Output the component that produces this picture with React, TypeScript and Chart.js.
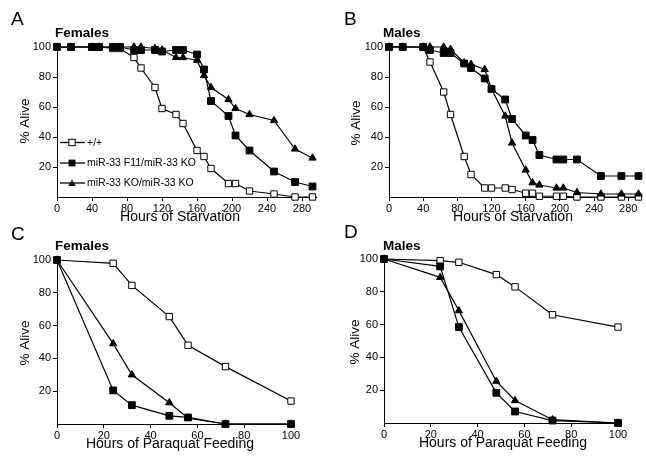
import React, { useEffect, useRef } from 'react';
import { Chart, registerables } from 'chart.js';

Chart.register(...registerables);

const FONT = "'Liberation Sans', Arial, Helvetica, sans-serif";
Chart.defaults.font.family = FONT;
Chart.defaults.color = '#000';

// ---------- data ----------
const starvationHours = [0, 16, 40, 48, 64, 72, 88, 96, 112, 120, 136, 144, 160, 168, 176, 196, 204, 220, 248, 272, 292];

const femStarvWT = [100, 100, 100, 100, 99, 99, 93, 86, 73, 59, 55, 49, 31, 27, 19, 9, 9, 4, 2, 0, 0];
const femStarvF11 = [100, 100, 100, 100, 100, 100, 98, 98, 98, 97, 98, 98, 95, 85, 64, 54, 41, 31, 17, 10, 7];
const femStarvKO = [100, 100, 100, 100, 100, 100, 100, 100, 99, 98, 93, 93, 91, 81, 73, 65, 59, 55, 51, 32, 26];

const maleStarvWT = [100, 100, 100, 90, 70, 55, 27, 15, 6, 6, 6, 5, 2.5, 2.5, 0.5, 0.5, 0.5, 0, 0, 0, 0];
const maleStarvF11 = [100, 100, 100, 98, 96, 96, 89, 86, 79, 72, 65, 52, 41, 38, 28, 25, 25, 25, 14, 14, 14];
const maleStarvKO = [100, 100, 100, 100, 100, 98.5, 89.5, 88.5, 85, 72, 54, 36, 18, 9.5, 8, 6, 6, 3, 2, 2, 2];

const paraquatHours = [0, 24, 32, 48, 56, 72, 100];

const femParaWT = [100, 98, 84.5, 65.5, 48, 35, 14];
const femParaF11 = [100, 20.5, 11.5, 5, 4, 0, 0];
const femParaKO = [100, 49, 30, 13, 3.5, 0, 0];

const maleParaWT = [100, 99, 98, 90.5, 83, 66, 58.5];
const maleParaF11 = [100, 95.5, 58.5, 18.4, 7, 1.5, 0];
const maleParaKO = [100, 88.8, 68.5, 25.5, 13.7, 2, 0];

const seriesNames = ['+/+', 'miR-33 F11/miR-33 KO', 'miR-33 KO/miR-33 KO'];
const yTitle = '% Alive';
const yTickValues = [20, 40, 60, 80, 100];

// ---------- layout ----------
const W = 646;
const H = 460;
const Y_W = 30;
const X_H = 20;

type Panel = {
  letter: string;
  title: string;
  xTitle: string;
  hours: number[];
  wt: number[];
  f11: number[];
  ko: number[];
  xMax: number;
  xStep: number;
  area: { left: number; right: number; top: number; bottom: number };
  letterPos: [number, number];
  titlePos: [number, number];
  xTitlePos: [number, number];
  yTitlePos: [number, number];
  legend: boolean;
};

const panels: Panel[] = [
  {
    letter: 'A', title: 'Females', xTitle: 'Hours of Starvation',
    hours: starvationHours, wt: femStarvWT, f11: femStarvF11, ko: femStarvKO,
    xMax: 296, xStep: 40,
    area: { left: 57, right: 316, top: 47, bottom: 197 },
    letterPos: [11, 25], titlePos: [55, 37], xTitlePos: [180, 221], yTitlePos: [25, 121],
    legend: true,
  },
  {
    letter: 'B', title: 'Males', xTitle: 'Hours of Starvation',
    hours: starvationHours, wt: maleStarvWT, f11: maleStarvF11, ko: maleStarvKO,
    xMax: 294, xStep: 40,
    area: { left: 389, right: 646, top: 47, bottom: 197 },
    letterPos: [344, 25], titlePos: [383, 37], xTitlePos: [513, 221], yTitlePos: [356, 123],
    legend: false,
  },
  {
    letter: 'C', title: 'Females', xTitle: 'Hours of Paraquat Feeding',
    hours: paraquatHours, wt: femParaWT, f11: femParaF11, ko: femParaKO,
    xMax: 100, xStep: 20,
    area: { left: 57, right: 291, top: 260, bottom: 424 },
    letterPos: [11, 240], titlePos: [55, 250], xTitlePos: [170, 448], yTitlePos: [25, 343],
    legend: false,
  },
  {
    letter: 'D', title: 'Males', xTitle: 'Hours of Paraquat Feeding',
    hours: paraquatHours, wt: maleParaWT, f11: maleParaF11, ko: maleParaKO,
    xMax: 100, xStep: 20,
    area: { left: 384, right: 618, top: 259, bottom: 423 },
    letterPos: [344, 238], titlePos: [383, 250], xTitlePos: [503, 447], yTitlePos: [355, 342],
    legend: false,
  },
];

function drawMarker(ctx: CanvasRenderingContext2D, kind: string, x: number, y: number) {
  ctx.save();
  ctx.lineWidth = 1;
  ctx.strokeStyle = '#000';
  if (kind === 'open') {
    ctx.fillStyle = '#fff';
    ctx.fillRect(x - 3.2, y - 3.2, 6.4, 6.4);
    ctx.strokeRect(x - 3.2, y - 3.2, 6.4, 6.4);
  } else if (kind === 'filled') {
    ctx.fillStyle = '#000';
    ctx.fillRect(x - 3.4, y - 3.4, 6.8, 6.8);
  } else {
    const r = 4.2;
    ctx.fillStyle = '#000';
    ctx.beginPath();
    for (let i = 0; i < 3; i++) {
      const a = (i * 2 * Math.PI) / 3;
      const px = x + Math.sin(a) * r;
      const py = y - Math.cos(a) * r + 0.8;
      if (i === 0) ctx.moveTo(px, py);
      else ctx.lineTo(px, py);
    }
    ctx.closePath();
    ctx.fill();
  }
  ctx.restore();
}

const panelTextPlugin = {
  id: 'panelText',
  afterDraw(chart: any, _args: any, opts: any) {
    const p: Panel = opts.panel;
    if (!p) return;
    const ctx: CanvasRenderingContext2D = chart.ctx;
    ctx.save();
    ctx.fillStyle = '#000';
    ctx.textBaseline = 'alphabetic';
    ctx.textAlign = 'left';
    ctx.font = `19px ${FONT}`;
    ctx.fillText(p.letter, p.letterPos[0], p.letterPos[1]);
    ctx.font = `bold 13.5px ${FONT}`;
    ctx.fillText(p.title, p.titlePos[0], p.titlePos[1]);
    ctx.font = `14px ${FONT}`;
    ctx.textAlign = 'center';
    ctx.fillText(p.xTitle, p.xTitlePos[0], p.xTitlePos[1]);
    ctx.save();
    ctx.translate(p.yTitlePos[0], p.yTitlePos[1]);
    ctx.rotate(-Math.PI / 2);
    ctx.textBaseline = 'middle';
    ctx.font = `13.5px ${FONT}`;
    ctx.fillText(yTitle, 0, 0);
    ctx.restore();

    if (p.legend) {
      const kinds = ['open', 'filled', 'tri'];
      const rows = [142.5, 163, 183];
      ctx.textAlign = 'left';
      ctx.textBaseline = 'middle';
      ctx.font = `10.5px ${FONT}`;
      for (let i = 0; i < 3; i++) {
        const y = rows[i];
        ctx.strokeStyle = '#000';
        ctx.lineWidth = 1.3;
        ctx.beginPath();
        ctx.moveTo(60, y);
        ctx.lineTo(85, y);
        ctx.stroke();
        drawMarker(ctx, kinds[i], 72, y);
        ctx.fillStyle = '#000';
        ctx.fillText(seriesNames[i], 87, y + 0.5);
      }
    }
    ctx.restore();
  },
};

function buildConfig(p: Panel): any {
  const pts = (vals: number[]) => p.hours.map((h, i) => ({ x: h, y: vals[i] }));
  const common = {
    borderColor: '#000',
    borderWidth: 1.2,
    pointBorderColor: '#000',
    pointBorderWidth: 1,
    tension: 0,
    clip: false,
    fill: false,
  };
  return {
    type: 'line',
    data: {
      datasets: [
        {
          ...common, label: seriesNames[1], data: pts(p.f11), order: 0,
          pointStyle: 'rect', pointRadius: 4.8, pointBackgroundColor: '#000',
        },
        {
          ...common, label: seriesNames[2], data: pts(p.ko), order: 1,
          pointStyle: 'triangle', pointRadius: 4.2, pointBackgroundColor: '#000',
        },
        {
          ...common, label: seriesNames[0], data: pts(p.wt), order: 2,
          pointStyle: 'rect', pointRadius: 4.5, pointBackgroundColor: '#fff',
        },
      ],
    },
    options: {
      responsive: false,
      maintainAspectRatio: false,
      animation: false,
      devicePixelRatio: 1,
      events: [],
      layout: {
        padding: {
          left: p.area.left - Y_W,
          right: W - p.area.right,
          top: p.area.top,
          bottom: H - p.area.bottom - X_H,
        },
      },
      plugins: {
        legend: { display: false },
        tooltip: { enabled: false },
        title: { display: false },
        panelText: { panel: p },
      },
      scales: {
        x: {
          type: 'linear',
          min: 0,
          max: p.xMax,
          afterFit: (s: any) => { s.height = X_H; },
          border: { display: true, color: '#000', width: 1 },
          grid: { display: true, drawOnChartArea: false, drawTicks: true, tickLength: 4, color: '#000', lineWidth: 1 },
          ticks: {
            stepSize: p.xStep,
            includeBounds: false,
            autoSkip: false,
            maxRotation: 0,
            padding: 1,
            color: '#000',
            font: { size: 11, family: FONT },
          },
        },
        y: {
          type: 'linear',
          min: 0,
          max: 100,
          afterFit: (s: any) => { s.width = Y_W; },
          afterBuildTicks: (s: any) => { s.ticks = [{ value: 0 }, ...yTickValues.map((v) => ({ value: v }))]; },
          border: { display: true, color: '#000', width: 1 },
          grid: {
            display: true, drawOnChartArea: false, drawTicks: true, tickLength: 4, lineWidth: 1,
            color: (c: any) => (c.tick && c.tick.value === 0 ? 'rgba(0,0,0,0)' : '#000'),
          },
          ticks: {
            padding: 2,
            color: '#000',
            font: { size: 11, family: FONT },
            callback: (v: any) => (v === 0 ? '' : String(v)),
          },
        },
      },
    },
    plugins: [panelTextPlugin],
  };
}

function PanelCanvas({ panel }: { panel: Panel }) {
  const ref = useRef<HTMLCanvasElement | null>(null);
  useEffect(() => {
    if (!ref.current) return;
    const chart = new Chart(ref.current, buildConfig(panel));
    return () => chart.destroy();
  }, [panel]);
  return (
    <canvas
      ref={ref}
      width={W}
      height={H}
      style={{ position: 'absolute', left: 0, top: 0, width: W, height: H }}
    />
  );
}

export default function App() {
  return (
    <div style={{ position: 'fixed', left: 0, top: 0, width: W, height: H, background: '#fff', overflow: 'hidden' }}>
      {panels.map((p) => (
        <PanelCanvas key={p.letter} panel={p} />
      ))}
    </div>
  );
}
